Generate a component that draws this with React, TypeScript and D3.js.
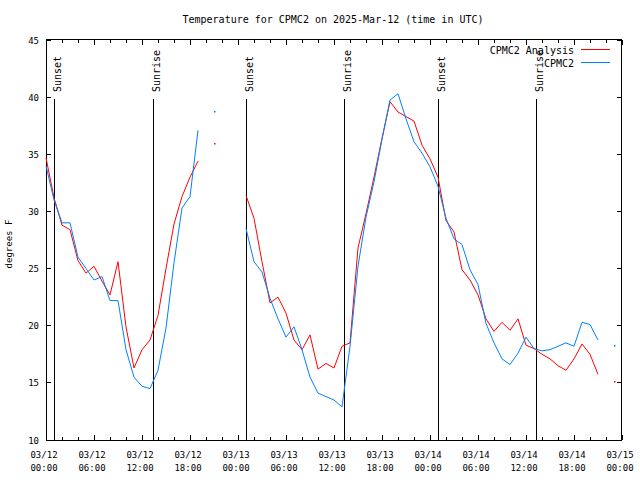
import React, { useEffect, useRef } from 'react';
import * as d3 from 'd3';

// hourly values, hour 0 = 03/12 00:00 UTC, null = missing
const analysis: (number | null)[] = [
  34.7, 31.2, 28.8, 28.4, 25.7, 24.6, 25.2, 23.9, 22.7, 25.6, 19.9, 16.3,
  17.9, 18.75, 20.9, 25.0, 28.9, 31.3, 33.0, 34.4, null, 36.0, null, null,
  null, 31.4, 29.4, 25.6, 22.0, 22.5, 21.1, 18.75, 17.9, 19.2, 16.2, 16.7,
  16.3, 18.2, 18.5, 26.8, 29.8, 33.0, 36.4, 39.6, 38.7, 38.3, 37.9, 35.8,
  34.6, 33.0, 29.2, 28.2, 24.9, 24.0, 22.7, 20.6, 19.5, 20.3, 19.6, 20.6,
  18.3, 18.0, 17.5, 17.1, 16.5, 16.1, 17.1, 18.4, 17.5, 15.75, null, 15.2,
];
const observed: (number | null)[] = [
  34.0, 31.0, 29.0, 29.0, 26.0, 25.0, 24.0, 24.3, 22.2, 22.2, 17.9, 15.5,
  14.7, 14.5, 16.1, 19.8, 25.5, 30.3, 31.3, 37.1, null, 38.8, null, null,
  null, 28.5, 25.6, 24.7, 22.4, 20.6, 19.0, 19.9, 17.9, 15.5, 14.1, 13.8,
  13.5, 12.9, 18.2, 25.2, 29.5, 32.6, 36.3, 39.75, 40.3, 38.1, 36.1, 35.1,
  33.9, 32.2, 29.4, 27.6, 27.1, 24.9, 23.6, 20.2, 18.5, 17.1, 16.6, 17.6,
  19.0, 18.0, 17.8, 17.9, 18.2, 18.5, 18.2, 20.3, 20.1, 18.75, null, 18.3,
];

const sunEvents = [
  { hour: 1.0, label: 'Sunset' },
  { hour: 13.4, label: 'Sunrise' },
  { hour: 25.0, label: 'Sunset' },
  { hour: 37.3, label: 'Sunrise' },
  { hour: 49.0, label: 'Sunset' },
  { hour: 61.3, label: 'Sunrise' },
];

const yTicks = [10, 15, 20, 25, 30, 35, 40, 45];
const xTickDates = ['03/12', '03/12', '03/12', '03/12', '03/13', '03/13', '03/13', '03/13', '03/14', '03/14', '03/14', '03/14', '03/15'];
const xTickTimes = ['00:00', '06:00', '12:00', '18:00', '00:00', '06:00', '12:00', '18:00', '00:00', '06:00', '12:00', '18:00', '00:00'];

const series = [
  { name: 'CPMC2 Analysis', values: analysis, color: '#ff0000' },
  { name: 'CPMC2', values: observed, color: '#0080ff' },
];

const FONT = '"DejaVu Sans Mono", monospace';

const App: React.FC = () => {
  const svgRef = useRef<SVGSVGElement>(null);

  useEffect(() => {
    if (!svgRef.current) return;
    const svg = d3.select(svgRef.current);
    svg.selectAll('*').remove();

    const left = 46, right = 622, top = 40, bottom = 440;
    const x = d3.scaleLinear().domain([0, 72]).range([left, right]);
    const y = d3.scaleLinear().domain([10, 45]).range([bottom, top]);

    svg.append('rect').attr('width', 640).attr('height', 480).attr('fill', '#fff');

    // title
    svg.append('text')
      .attr('x', 333).attr('y', 23)
      .attr('text-anchor', 'middle')
      .style('font-family', FONT).style('font-size', '10px')
      .text('Temperature for CPMC2 on 2025-Mar-12 (time in UTC)');

    const axes = svg.append('g').attr('shape-rendering', 'crispEdges');

    // y ticks
    yTicks.forEach((t) => {
      axes.append('line').attr('x1', left).attr('x2', left + 5).attr('y1', y(t)).attr('y2', y(t)).attr('stroke', '#000');
      axes.append('line').attr('x1', right - 5).attr('x2', right).attr('y1', y(t)).attr('y2', y(t)).attr('stroke', '#000');
      svg.append('text')
        .attr('x', 39).attr('y', y(t) + 3.5)
        .attr('text-anchor', 'end')
        .style('font-family', FONT).style('font-size', '9px')
        .text(t);
    });

    // x ticks: major every 6h, minor every 2h
    d3.range(0, 73, 2).forEach((h) => {
      const len = h % 6 === 0 ? 5 : 3;
      axes.append('line').attr('x1', x(h)).attr('x2', x(h)).attr('y1', bottom).attr('y2', bottom - len).attr('stroke', '#000');
      axes.append('line').attr('x1', x(h)).attr('x2', x(h)).attr('y1', top).attr('y2', top + len).attr('stroke', '#000');
    });
    xTickDates.forEach((d, i) => {
      const lbl = svg.append('text')
        .attr('x', x(i * 6) - 2)
        .attr('text-anchor', 'middle')
        .style('font-family', FONT).style('font-size', '9px');
      lbl.append('tspan').attr('x', x(i * 6) - 2).attr('y', 457.5).text(d);
      lbl.append('tspan').attr('x', x(i * 6) - 2).attr('y', 470.5).text(xTickTimes[i]);
    });

    // y axis title
    svg.append('text')
      .attr('transform', 'translate(12, 244) rotate(-90)')
      .attr('text-anchor', 'middle')
      .style('font-family', FONT).style('font-size', '9px')
      .text('degrees F');

    // sunrise / sunset markers
    sunEvents.forEach((e) => {
      const sx = Math.round(x(e.hour)) + 0.5;
      svg.append('line')
        .attr('x1', sx).attr('x2', sx).attr('y1', 99).attr('y2', bottom)
        .attr('stroke', '#000').attr('shape-rendering', 'crispEdges');
      svg.append('text')
        .attr('transform', `translate(${sx + 6}, 92) rotate(-90)`)
        .style('font-family', FONT).style('font-size', '10px')
        .text(e.label);
    });

    // data lines
    const line = d3.line<number | null>()
      .defined((d) => d !== null)
      .x((_, i) => x(i))
      .y((d) => y(d as number));

    series.forEach((s) => {
      svg.append('path')
        .datum(s.values)
        .attr('d', line as any)
        .attr('fill', 'none')
        .attr('stroke', s.color)
        .attr('stroke-width', 1);
      // isolated points
      s.values.forEach((v, i) => {
        if (v === null) return;
        const prev = i > 0 ? s.values[i - 1] : null;
        const next = i < s.values.length - 1 ? s.values[i + 1] : null;
        if (prev === null && next === null) {
          svg.append('rect')
            .attr('x', Math.round(x(i))).attr('y', Math.round(y(v)))
            .attr('width', 1.5).attr('height', 1.5)
            .attr('fill', s.color);
        }
      });
    });

    // border
    axes.append('rect')
      .attr('x', left + 0.5).attr('y', top - 0.5)
      .attr('width', right - left - 1).attr('height', bottom - top + 0.5)
      .attr('fill', 'none').attr('stroke', '#000');

    // legend
    series.forEach((s, i) => {
      const ly = 50 + i * 13;
      svg.append('text')
        .attr('x', 574).attr('y', ly + 3.5)
        .attr('text-anchor', 'end')
        .style('font-family', FONT).style('font-size', '10px')
        .text(s.name);
      svg.append('line')
        .attr('x1', 581).attr('x2', 610).attr('y1', ly - 0.5).attr('y2', ly - 0.5)
        .attr('stroke', s.color).attr('shape-rendering', 'crispEdges');
    });
  }, []);

  return (
    <svg
      ref={svgRef}
      width={640}
      height={480}
      style={{ position: 'absolute', left: 0, top: 0 }}
    />
  );
};

export default App;
